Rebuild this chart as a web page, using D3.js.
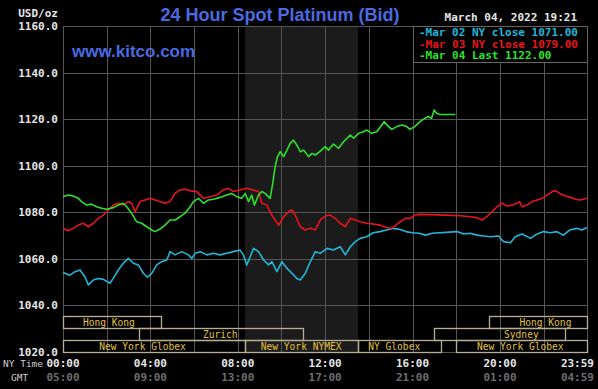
<!DOCTYPE html>
<html>
<head>
<meta charset="utf-8">
<script src="https://cdn.jsdelivr.net/npm/d3@7"></script>
<style>
  html, body { margin: 0; padding: 0; background: #000; }
  svg { display: block; }
  .mono { font-family: "DejaVu Sans Mono", monospace; }
</style>
</head>
<body>
<div id="chart"></div>
<script>
// values: [NY hour, USD/oz]
var mar02 = [[0,1054.1],[0.32,1053],[0.55,1054.5],[0.78,1055.2],[1.0,1052.3],[1.16,1048.8],[1.39,1050.9],[1.62,1051.6],[1.85,1051.2],[2.15,1049.5],[2.3,1051.6],[2.53,1055.2],[2.76,1058.1],[2.99,1060.2],[3.22,1058.1],[3.45,1057.4],[3.68,1053.8],[3.86,1052.1],[4.06,1053.8],[4.29,1057.4],[4.52,1058.8],[4.75,1059.5],[4.9,1063.1],[5.13,1061.7],[5.44,1063.1],[5.74,1061.7],[5.9,1060.2],[6.05,1062.4],[6.28,1063.1],[6.58,1061.7],[6.89,1062.4],[7.19,1061.7],[7.5,1062.4],[7.8,1063.1],[8.1,1063.8],[8.26,1061.7],[8.41,1057.4],[8.57,1060.9],[8.72,1064.5],[8.95,1063.1],[9.18,1059.5],[9.41,1057.4],[9.56,1058.8],[9.79,1054.5],[10.02,1058.8],[10.25,1055.9],[10.48,1053.8],[10.7,1051.6],[10.86,1050.9],[11.09,1053.8],[11.32,1058.8],[11.55,1063.1],[11.78,1062.4],[12.08,1064.5],[12.38,1063.8],[12.69,1065.2],[12.92,1061.7],[13.15,1065.2],[13.38,1067.4],[13.6,1068.8],[13.9,1069.5],[14.2,1071.2],[14.5,1071.7],[14.8,1072.4],[15.1,1073.1],[15.4,1072.7],[15.7,1071.7],[16.0,1071.2],[16.3,1071.0],[16.6,1070.2],[16.9,1071.0],[18.03,1071.7],[18.34,1070.7],[18.64,1071],[18.95,1070.2],[19.25,1069.8],[19.56,1069.5],[19.94,1069.8],[20.05,1068.5],[20.17,1067.4],[20.48,1066.9],[20.7,1069.5],[21.01,1070.7],[21.4,1068.8],[21.7,1070.7],[22.0,1071.7],[22.31,1071.2],[22.6,1071.7],[22.9,1070.2],[23.2,1072.4],[23.5,1073.1],[23.75,1072.4],[23.98,1073.5]];

var mar03 = [[0,1073.1],[0.24,1072.1],[0.47,1073.1],[0.7,1074.5],[0.93,1075.3],[1.16,1073.8],[1.39,1075.3],[1.62,1077.4],[1.85,1078.8],[2.08,1081.0],[2.31,1083.1],[2.54,1083.9],[2.76,1083.1],[2.99,1084.6],[3.14,1083.9],[3.3,1080.3],[3.53,1084.6],[3.76,1085.3],[3.99,1086.0],[4.21,1085.3],[4.44,1084.6],[4.67,1083.9],[4.9,1084.6],[5.13,1088.1],[5.36,1089.6],[5.59,1089.9],[5.82,1089.2],[6.12,1088.9],[6.43,1086.0],[6.73,1086.7],[7.04,1087.4],[7.34,1089.6],[7.57,1090.3],[7.8,1088.9],[8.1,1089.6],[8.41,1090.3],[8.72,1089.6],[8.95,1088.9],[9.1,1083.9],[9.33,1083.1],[9.56,1078.8],[9.71,1076.7],[9.87,1074.5],[10.1,1078.1],[10.33,1080.3],[10.48,1081.0],[10.63,1078.8],[10.86,1073.8],[11.09,1072.4],[11.32,1073.1],[11.55,1072.4],[11.78,1076.7],[12.0,1078.4],[12.23,1078.8],[12.46,1077.4],[12.69,1075.3],[12.92,1073.8],[13.15,1077.4],[13.38,1076.7],[13.6,1075.9],[13.9,1075.3],[14.2,1075.0],[14.5,1074.5],[14.8,1073.5],[15.05,1073.1],[15.35,1075.3],[15.67,1077.4],[15.9,1077.4],[16.1,1078.8],[16.35,1079.1],[17.5,1078.8],[18.2,1078.5],[18.64,1078.1],[18.95,1077.7],[19.18,1076.7],[19.4,1078.1],[19.64,1080.3],[19.87,1082.4],[20.1,1083.9],[20.33,1082.7],[20.56,1083.1],[20.79,1083.9],[20.9,1084.6],[21.0,1082.4],[21.24,1083.1],[21.47,1084.6],[21.7,1085.3],[21.93,1086.0],[22.16,1087.4],[22.39,1088.9],[22.54,1089.3],[22.77,1087.9],[23.0,1087.0],[23.23,1086.4],[23.46,1085.6],[23.68,1085.3],[23.98,1086.0]];

var mar04 = [[0,1086.7],[0.24,1087.4],[0.47,1087.0],[0.7,1086.0],[0.85,1084.6],[1.08,1083.1],[1.31,1083.5],[1.54,1082.4],[1.77,1081.7],[2.0,1081.3],[2.31,1082.0],[2.54,1083.1],[2.76,1083.9],[2.92,1082.4],[3.14,1079.6],[3.37,1075.9],[3.6,1075.3],[3.83,1073.8],[4.06,1072.4],[4.21,1071.7],[4.44,1072.8],[4.67,1074.5],[4.9,1076.7],[5.13,1076.7],[5.36,1078.1],[5.59,1079.6],[5.82,1082.4],[5.97,1084.6],[6.2,1086.0],[6.43,1083.9],[6.66,1085.3],[6.89,1085.6],[7.19,1086.4],[7.5,1087.4],[7.72,1088.1],[7.95,1086.7],[8.18,1086.0],[8.34,1088.1],[8.49,1084.6],[8.64,1087.4],[8.76,1083.1],[8.95,1087.4],[9.1,1088.9],[9.25,1088.1],[9.48,1086.0],[9.6,1092.4],[9.71,1099.6],[9.82,1103.9],[9.94,1106.0],[10.1,1103.9],[10.25,1106.7],[10.4,1109.6],[10.55,1111.0],[10.7,1108.9],[10.86,1106.0],[11.01,1106.7],[11.24,1103.9],[11.4,1105.3],[11.55,1104.6],[11.78,1106.3],[12.0,1108.2],[12.15,1106.7],[12.38,1109.3],[12.61,1107.5],[12.84,1110.3],[13.0,1111.8],[13.15,1113.2],[13.3,1111.8],[13.53,1113.9],[13.75,1114.6],[13.9,1115.3],[14.13,1113.9],[14.36,1114.6],[14.59,1117.5],[14.7,1118.9],[14.9,1116.8],[15.05,1115.6],[15.28,1116.8],[15.5,1117.5],[15.73,1116.8],[15.88,1115.6],[16.1,1116.8],[16.34,1118.9],[16.57,1120.4],[16.72,1121.1],[16.87,1120.4],[16.99,1123.9],[17.1,1122.5],[17.25,1122.0],[17.95,1122.0]];

var seriesNames = ["Mar 02 NY close 1071.00", "Mar 03 NY close 1079.00", "Mar 04 Last 1122.00"];
var seriesColors = ["#22b6d8", "#e8141c", "#2ee02e"];

var yTicks = [1020, 1040, 1060, 1080, 1100, 1120, 1140, 1160];
var xTicks = [0, 4, 8, 12, 16, 20, 23 + 59 / 60];
var nyLabels = ["00:00", "04:00", "08:00", "12:00", "16:00", "20:00", "23:59"];
var gmtLabels = ["05:00", "09:00", "13:00", "17:00", "21:00", "01:00", "04:59"];

var nymex = [8 + 20 / 60, 13.5];

// trading sessions: row 0 top .. row 2 bottom, hours NY time
var sessions = [
    { name: "Hong Kong", row: 0, from: 0, to: 4.5, label: 2.1 },
    { name: "Hong Kong", row: 0, from: 19.5, to: 24, label: 22.08 },
    { name: "Zurich", row: 1, from: 3.5, to: 11.0, label: 7.2 },
    { name: "Sydney", row: 1, from: 17, to: 23, label: 20.98 },
    { name: "New York Globex", row: 2, from: 0, to: 8 + 20 / 60, label: 3.64 },
    { name: "New York NYMEX", row: 2, from: 8 + 20 / 60, to: 13.5, label: 10.9 },
    { name: "NY Globex", row: 2, from: 13.5, to: 17.3, label: 15.16 },
    { name: "New York Globex", row: 2, from: 18, to: 24, label: 20.93 }
];

(function () {
    var W = 598, H = 389;
    var pl = 63, pr = 587, pt = 26, pb = 352;
    var dayEnd = 23 + 59 / 60;

    var svg = d3.select("#chart").append("svg")
        .attr("width", W).attr("height", H);

    svg.append("rect").attr("width", W).attr("height", H).attr("fill", "#000");

    var x = d3.scaleLinear().domain([0, dayEnd]).range([pl, pr]);
    var y = d3.scaleLinear().domain([1020, 1160]).range([pb, pt]);

    // NYMEX pit hours shading
    svg.append("rect")
        .attr("x", x(nymex[0])).attr("y", pt)
        .attr("width", x(nymex[1]) - x(nymex[0]))
        .attr("height", pb - pt)
        .attr("fill", "#1b1b1b");

    // grid
    var grid = svg.append("g").attr("stroke", "#555").attr("stroke-width", 1);
    grid.selectAll("line.h").data(yTicks).enter().append("line")
        .attr("x1", pl).attr("x2", pr)
        .attr("y1", function (d) { return Math.round(y(d)) + 0.5; })
        .attr("y2", function (d) { return Math.round(y(d)) + 0.5; });
    grid.selectAll("line.v").data(d3.range(0, 24, 2).concat([dayEnd])).enter().append("line")
        .attr("y1", pt).attr("y2", pb)
        .attr("x1", function (d) { return Math.round(x(d)) + 0.5; })
        .attr("x2", function (d) { return Math.round(x(d)) + 0.5; });

    // sessions
    var rowH = 12, rowTop = pb - 3 * rowH;
    var sess = svg.append("g");
    sess.selectAll("rect").data(sessions).enter().append("rect")
        .attr("x", function (d) { return Math.round(x(d.from)) + 0.5; })
        .attr("y", function (d) { return rowTop + d.row * rowH + 0.5; })
        .attr("width", function (d) { return Math.round(x(Math.min(d.to, dayEnd)) - x(d.from)); })
        .attr("height", rowH)
        .attr("fill", "none")
        .attr("stroke", "#b8b096")
        .attr("stroke-width", 1.3);
    sess.selectAll("text").data(sessions).enter().append("text")
        .attr("class", "mono")
        .attr("x", function (d) { return x(d.label); })
        .attr("y", function (d) { return rowTop + d.row * rowH + 9.5; })
        .attr("text-anchor", "middle")
        .attr("font-size", "9.6px")
        .attr("fill", "#e0c040")
        .text(function (d) { return d.name; });

    // lines
    var line = d3.line()
        .x(function (d) { return x(d[0]); })
        .y(function (d) { return y(d[1]); });
    [mar02, mar03, mar04].forEach(function (s, i) {
        svg.append("path")
            .datum(s)
            .attr("d", line)
            .attr("fill", "none")
            .attr("stroke", seriesColors[i])
            .attr("stroke-width", 1.6)
            .attr("stroke-linejoin", "round");
    });

    // legend
    svg.append("rect")
        .attr("x", 413.5).attr("y", pt + 0.5)
        .attr("width", pr - 413).attr("height", 36)
        .attr("fill", "#000").attr("stroke", "#666");
    svg.selectAll("text.leg").data(seriesNames).enter().append("text")
        .attr("class", "mono")
        .attr("x", 419)
        .attr("y", function (d, i) { return 36 + i * 11.7; })
        .attr("font-size", "11px")
        .attr("font-weight", "bold")
        .attr("fill", function (d, i) { return seriesColors[i]; })
        .text(function (d) { return "-" + d; });

    // y axis labels
    svg.selectAll("text.y").data(yTicks).enter().append("text")
        .attr("class", "mono")
        .attr("x", 58)
        .attr("y", function (d) { return y(d) + 4; })
        .attr("text-anchor", "end")
        .attr("font-size", "11px")
        .attr("font-weight", "bold")
        .attr("fill", "#e6e6e6")
        .text(function (d) { return d3.format(".1f")(d); });

    // x axis labels; the last one is pulled inside the frame
    function xl(d, i) { return i === xTicks.length - 1 ? 594 : x(d); }
    function xa(d, i) { return i === xTicks.length - 1 ? "end" : "middle"; }
    svg.selectAll("text.ny").data(xTicks).enter().append("text")
        .attr("class", "mono")
        .attr("x", xl).attr("text-anchor", xa)
        .attr("y", 367)
        .attr("font-size", "11px")
        .attr("font-weight", "bold")
        .attr("fill", "#e6e6e6")
        .text(function (d, i) { return nyLabels[i]; });
    svg.selectAll("text.gmt").data(xTicks).enter().append("text")
        .attr("class", "mono")
        .attr("x", xl).attr("text-anchor", xa)
        .attr("y", 381)
        .attr("font-size", "11px")
        .attr("font-weight", "bold")
        .attr("fill", "#6e6e6e")
        .text(function (d, i) { return gmtLabels[i]; });

    svg.append("text").attr("class", "mono")
        .attr("x", 3).attr("y", 367)
        .attr("font-size", "9.5px").attr("fill", "#cfcfcf")
        .text("NY Time");
    svg.append("text").attr("class", "mono")
        .attr("x", 11).attr("y", 381)
        .attr("font-size", "9.5px").attr("fill", "#cfcfcf")
        .text("GMT");

    svg.append("text").attr("class", "mono")
        .attr("x", 58).attr("y", 17)
        .attr("text-anchor", "end")
        .attr("font-size", "11px").attr("font-weight", "bold")
        .attr("fill", "#e6e6e6")
        .text("USD/oz");

    // titles
    svg.append("text")
        .attr("x", 280).attr("y", 21)
        .attr("text-anchor", "middle")
        .attr("font-family", "'Liberation Sans', Arial, sans-serif")
        .attr("font-size", "18px").attr("font-weight", "bold")
        .attr("fill", "#4a6ae0")
        .text("24 Hour Spot Platinum (Bid)");
    svg.append("text")
        .attr("x", 72).attr("y", 57)
        .attr("font-family", "'Liberation Sans', Arial, sans-serif")
        .attr("font-size", "17px").attr("font-weight", "bold")
        .attr("fill", "#4a6ae0")
        .text("www.kitco.com");
    svg.append("text").attr("class", "mono")
        .attr("x", 577).attr("y", 21)
        .attr("text-anchor", "end")
        .attr("font-size", "11px").attr("font-weight", "bold")
        .attr("fill", "#e6e6e6")
        .text("March 04, 2022 19:21");
})();
</script>
</body>
</html>
